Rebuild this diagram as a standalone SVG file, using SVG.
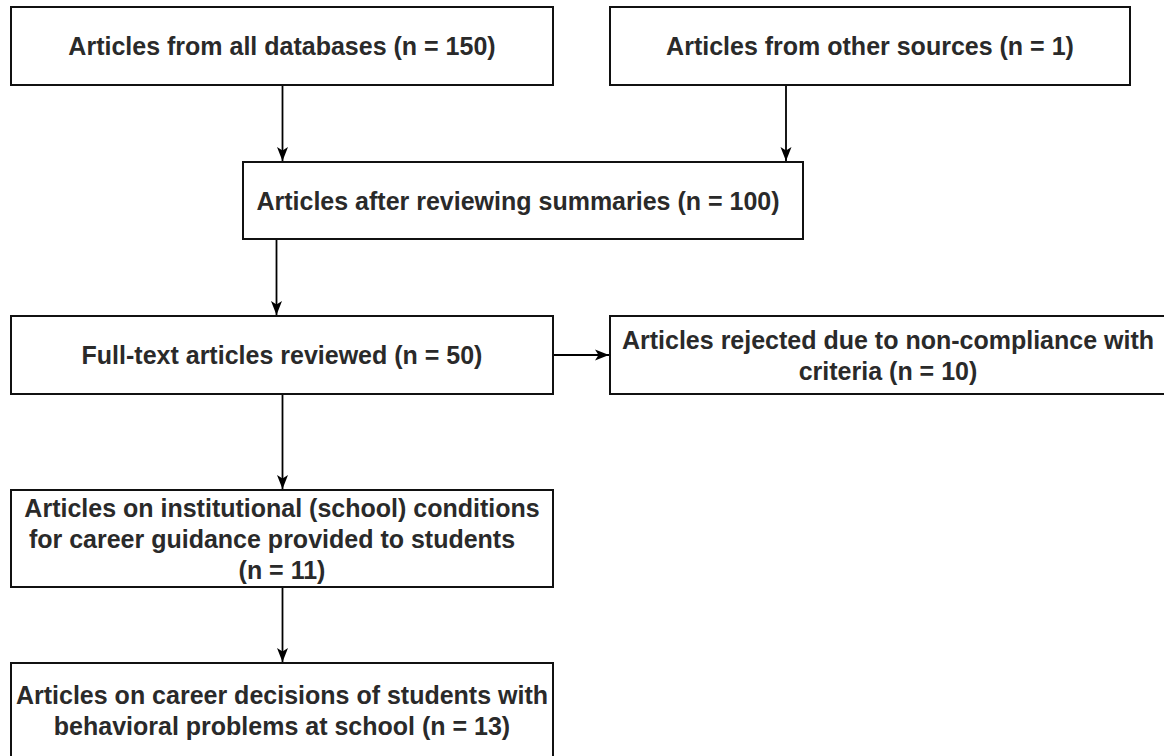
<svg xmlns="http://www.w3.org/2000/svg" width="1164" height="756" viewBox="0 0 1164 756">
<defs>
<marker id="ah" markerWidth="14" markerHeight="12" refX="14" refY="6" orient="auto" markerUnits="userSpaceOnUse">
<path d="M0,0.5 L14,6 L0,11.5 L3.5,6 Z" fill="#000"/>
</marker>
<style>
.box{fill:#fff;stroke:#111;stroke-width:2}
.t{font-family:"Liberation Sans",Arial,sans-serif;font-size:25px;font-weight:bold;fill:#2a2a2a;text-anchor:middle}
.c{stroke:#000;stroke-width:1.8;fill:none;marker-end:url(#ah)}
</style>
</defs>
<rect width="1164" height="756" fill="#fff"/>
<g id="connectors">
<line class="c" x1="282.5" y1="85" x2="282.5" y2="161"/>
<line class="c" x1="786" y1="85" x2="786" y2="161"/>
<line class="c" x1="276.5" y1="239" x2="276.5" y2="315"/>
<line class="c" x1="553" y1="355" x2="609" y2="355"/>
<line class="c" x1="282.5" y1="394" x2="282.5" y2="489"/>
<line class="c" x1="282.5" y1="587" x2="282.5" y2="662"/>
</g>
<g id="n1"><rect class="box" x="11" y="7" width="542" height="78"/><text class="t" x="282" y="55">Articles from all databases (n = 150)</text></g>
<g id="n2"><rect class="box" x="610" y="7" width="520" height="78"/><text class="t" x="870" y="55">Articles from other sources (n = 1)</text></g>
<g id="n3"><rect class="box" x="243" y="162" width="560" height="77"/><text class="t" x="518" y="209.5">Articles after reviewing summaries (n = 100)</text></g>
<g id="n4"><rect class="box" x="11" y="316" width="542" height="78"/><text class="t" x="282" y="364">Full-text articles reviewed (n = 50)</text></g>
<g id="n5"><rect class="box" x="610" y="316" width="560" height="78"/><text class="t" x="888"><tspan x="888" y="348.5">Articles rejected due to non-compliance with</tspan><tspan x="888" y="379.5">criteria (n = 10)</tspan></text></g>
<g id="n6"><rect class="box" x="11" y="490" width="542" height="97"/><text class="t" x="282"><tspan x="282" y="516.5">Articles on institutional (school) conditions</tspan><tspan x="272" y="547.5">for career guidance provided to students</tspan><tspan x="282" y="578.5">(n = 11)</tspan></text></g>
<g id="n7"><rect class="box" x="11" y="663" width="542" height="98"/><text class="t" x="282"><tspan x="282" y="704">Articles on career decisions of students with</tspan><tspan x="282" y="735">behavioral problems at school (n = 13)</tspan></text></g>
</svg>
